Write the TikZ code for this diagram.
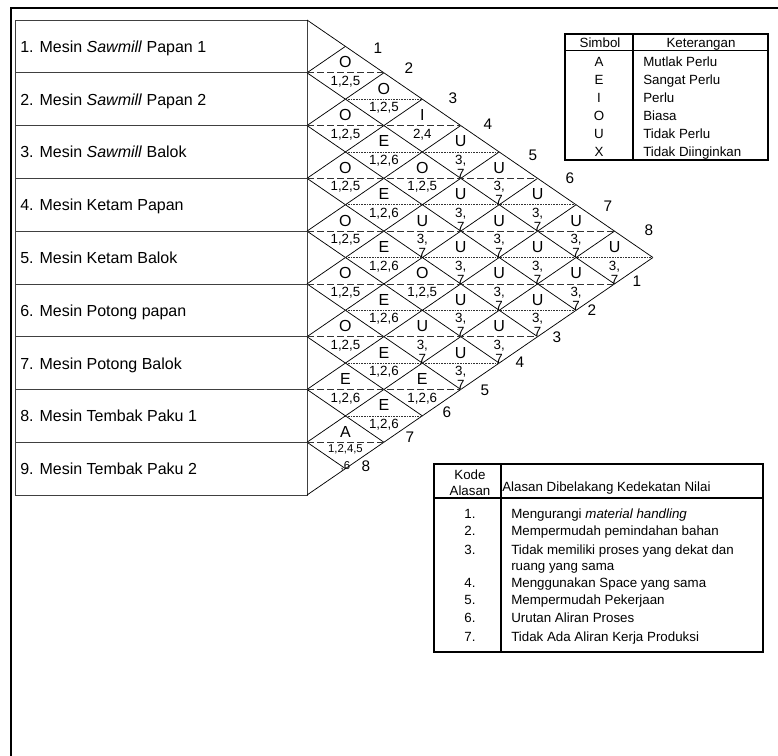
\documentclass[tikz,border=0pt]{standalone}
\usepackage{fontspec}
\setmainfont{Liberation Sans}
\usetikzlibrary{positioning}

\begin{document}
\begin{tikzpicture}[
		x=0.75pt, y=-0.75pt,
		rowbox/.style={draw=black!75, line width=0.6pt},
		rowlabel/.style={anchor=base west, inner sep=0pt, font=\fontsize{12}{14}\selectfont},
		gridline/.style={draw=black, line width=0.55pt},
		halfline/.style={draw=black!80, line width=0.6pt, dash pattern=on 5pt off 2.5pt},
		midline/.style={draw=black!80, line width=0.5pt, dash pattern=on 1.2pt off 0.8pt},
		symbol/.style={anchor=base, inner sep=0pt, font=\fontsize{12}{14}\selectfont},
		reason/.style={anchor=north, inner sep=0pt, align=center, font=\fontsize{10}{10.5}\selectfont},
		colnum/.style={inner sep=0pt, font=\fontsize{11.5}{13}\selectfont},
		tableline/.style={draw=black, line width=0.9pt},
		tabletext/.style={inner sep=0pt, font=\fontsize{10}{12}\selectfont}
		]
		
		% --- GRID CONSTANTS (px) ---
		\def\xo{307} \def\yt{20} \def\rh{52.78} \def\hw{38.44}
		
		\useasboundingbox (0,0) rectangle (778,756);
		
		% --- OUTER FRAME ---
		\draw[line width=2.2pt] (778,8) -- (11,8) -- (11,756);
		
		% --- DEPARTMENT ROWS ---
		\foreach \i/\txt in {1/{1. Mesin \textit{Sawmill} Papan 1},
			2/{2. Mesin \textit{Sawmill} Papan 2},
			3/{3. Mesin \textit{Sawmill} Balok},
			4/{4. Mesin Ketam Papan},
			5/{5. Mesin Ketam Balok},
			6/{6. Mesin Potong papan},
			7/{7. Mesin Potong Balok},
			8/{8. Mesin Tembak Paku 1},
			9/{9. Mesin Tembak Paku 2}} {
			\draw[rowbox] (15,{\yt+(\i-1)*\rh}) rectangle (\xo,{\yt+\i*\rh});
			\node[rowlabel] (dept\i) at (20,{\yt+(\i-0.5)*\rh+6}) {\txt};
		}
		
		% left vertices of the chart
		\foreach \k in {0,...,9} {
			\coordinate (b\k) at (\xo,{\yt+\k*\rh});
		}
		
		% --- DIAGONALS ---
		\foreach \k in {0,...,8} {
			\draw[gridline] (b\k) -- ++({(9-\k)*\hw},{(9-\k)*\rh/2});
		}
		\foreach \k in {1,...,9} {
			\draw[gridline] (b\k) -- ++({\k*\hw},{-\k*\rh/2});
		}
		
		% --- DIAMOND MIDLINES ---
		\foreach \k/\n in {1/2,2/4,3/6,4/8,5/8,6/6,7/4,8/2} {
			\draw[halfline] (b\k) -- ++({\n*\hw},0);
		}
		\foreach \k/\n in {2/3,3/5,4/7,5/9,6/7,7/5,8/3} {
			\draw[midline] ({\xo+\hw},{\yt+(\k-0.5)*\rh}) -- ({\xo+\n*\hw},{\yt+(\k-0.5)*\rh});
		}
		
		% --- RELATIONSHIP RATINGS ---
		\foreach \i/\j/\rate/\why in {1/2/O/{1,2,5}, 1/3/O/{1,2,5}, 1/4/I/{2,4},
			1/5/U/{3,\\7}, 1/6/U/{3,\\7}, 1/7/U/{3,\\7}, 1/8/U/{3,\\7}, 1/9/U/{3,\\7},
			2/3/O/{1,2,5}, 2/4/E/{1,2,6}, 2/5/O/{1,2,5},
			2/6/U/{3,\\7}, 2/7/U/{3,\\7}, 2/8/U/{3,\\7}, 2/9/U/{3,\\7},
			3/4/O/{1,2,5}, 3/5/E/{1,2,6},
			3/6/U/{3,\\7}, 3/7/U/{3,\\7}, 3/8/U/{3,\\7}, 3/9/U/{3,\\7},
			4/5/O/{1,2,5}, 4/6/E/{1,2,6}, 4/7/O/{1,2,5}, 4/8/U/{3,\\7}, 4/9/U/{3,\\7},
			5/6/O/{1,2,5}, 5/7/E/{1,2,6}, 5/8/U/{3,\\7}, 5/9/U/{3,\\7},
			6/7/O/{1,2,5}, 6/8/E/{1,2,6}, 6/9/E/{1,2,6},
			7/8/E/{1,2,6}, 7/9/E/{1,2,6}} {
			\pgfmathsetmacro{\cx}{\xo+(\j-\i)*\hw}
			\pgfmathsetmacro{\cy}{\yt+(\i+\j-1)/2*\rh}
			\node[symbol] (s\i\j) at ({\cx},{\cy-5}) {\rate};
			\node[reason] (r\i\j) at ({\cx},{\cy+3}) {\why};
		}
		\node[symbol] (s89) at ({\xo+\hw},{\yt+8*\rh-5}) {A};
		\node[reason, font=\fontsize{8.5}{12.5}\selectfont] (r89) at ({\xo+\hw},{\yt+8*\rh+2}) {1,2,4,5\\,6};
		
		% --- COLUMN NUMBERS ---
		\foreach \k/\x/\y in {1/378/48, 2/409/68, 3/453/98, 4/488/124,
			5/533/155, 6/570/178, 7/608/206, 8/649/230} {
			\node[colnum] (up\k) at (\x,\y) {\k};
		}
		\foreach \k/\x/\y in {1/637/281, 2/592/310, 3/557/337, 4/520/362,
			5/485/390, 6/447/412, 7/410/437, 8/366/466} {
			\node[colnum] (lo\k) at (\x,\y) {\k};
		}
		
		% --- LEGEND: SYMBOLS ---
		\draw[tableline] (565,34) rectangle (768,160);
		\draw[tableline] (565,50.7) -- (768,50.7);
		\draw[tableline] (633,34) -- (633,160);
		\node[tabletext, anchor=base] (simbol) at (600,47.6) {Simbol};
		\node[tabletext, anchor=base] (keterangan) at (701,47.6) {Keterangan};
		\foreach \n/\sym/\ket in {0/A/Mutlak Perlu, 1/E/Sangat Perlu, 2/I/Perlu,
			3/O/Biasa, 4/U/Tidak Perlu, 5/X/Tidak Diinginkan} {
			\node[tabletext, anchor=base] (sym\n) at (599,{66.8+\n*17.9}) {\sym};
			\node[tabletext, anchor=base west] (ket\n) at (643,{66.8+\n*17.9}) {\ket};
		}
		
		% --- LEGEND: REASON CODES ---
		\draw[tableline] (434,464) rectangle (763,652);
		\draw[tableline] (434,498) -- (763,498);
		\draw[tableline] (501,464) -- (501,652);
		\node[tabletext] (kode) at (470,475) {Kode};
		\node[tabletext, below=4pt of kode] (alasan) {Alasan};
		\node[tabletext, anchor=base west] (alasanhead) at (502,491.5) {Alasan Dibelakang Kedekatan Nilai};
		\foreach \n/\y/\txt in {1/514/{Mengurangi \textit{material handling}},
			2/531/{Mempermudah pemindahan bahan},
			3/550/{Tidak memiliki proses yang dekat dan},
			4/583/{Menggunakan Space yang sama},
			5/600/{Mempermudah Pekerjaan},
			6/618/{Urutan Aliran Proses},
			7/637/{Tidak Ada Aliran Kerja Produksi}} {
			\node[tabletext, anchor=base] (no\n) at (470,{\y+4.8}) {\n.};
			\node[tabletext, anchor=base west] (why\n) at (511,{\y+4.8}) {\txt};
		}
		\node[tabletext, anchor=base west] (why3b) at (511,570.8) {ruang yang sama};
		
	\end{tikzpicture}
\end{document}
